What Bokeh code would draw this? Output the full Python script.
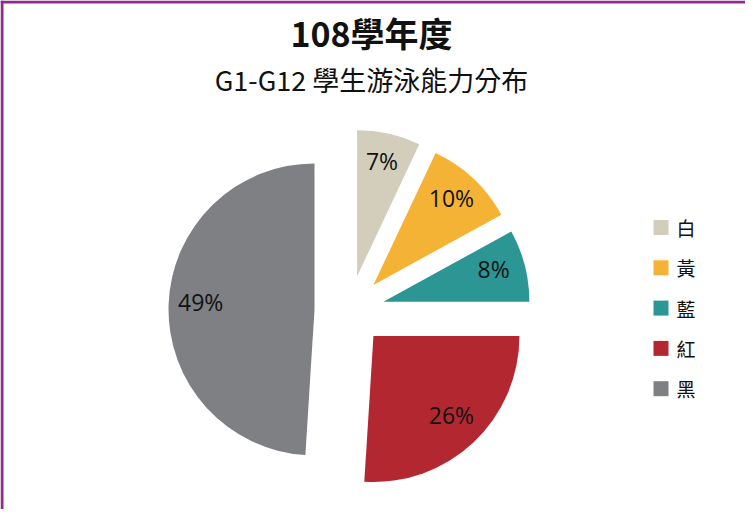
import numpy as np
from bokeh.plotting import figure
from bokeh.models import Range1d, ColumnDataSource
from bokeh.core.properties import value
from bokeh.embed import file_html
from bokeh.resources import INLINE

# ---- data ----
title_text = "108學年度"
subtitle_text = "G1-G12 學生游泳能力分布"
categories = ["白", "黃", "藍", "紅", "黑"]
percents = [7, 10, 8, 26, 49]
colors = ["#D3CEBB", "#F5B335", "#2B9693", "#B22730", "#7F8084"]

W, H = 745, 509
p = figure(width=W, height=H, output_backend="svg", toolbar_location=None,
           x_range=Range1d(0, W), y_range=Range1d(0, H),
           x_axis_type=None, y_axis_type=None, min_border=0)
p.grid.visible = False
p.outline_line_color = None
p.background_fill_color = "white"
p.border_fill_color = "white"

# layout constants
cx, cy, r, explode = 349, 199, 146, 35
label_dist = 0.78 * r

vals = np.array(percents, dtype=float)
frac = vals / vals.sum()
cum = np.concatenate([[0], np.cumsum(frac)])
start = np.pi / 2 - 2 * np.pi * cum[:-1]
end = np.pi / 2 - 2 * np.pi * cum[1:]
mid = (start + end) / 2
ax = cx + explode * np.cos(mid)
ay = cy + explode * np.sin(mid)

src = ColumnDataSource(dict(x=ax, y=ay, start=start, end=end, color=colors,
                            lx=ax + label_dist * np.cos(mid),
                            ly=ay + label_dist * np.sin(mid),
                            lab=[f"{v}%" for v in percents]))
p.wedge(x="x", y="y", radius=r, start_angle="start", end_angle="end",
        direction="clock", fill_color="color", line_color=None, source=src)
p.text(x="lx", y="ly", text="lab", source=src, text_align="center",
       text_baseline="middle", y_offset=-4, text_font=value("Open Sans"),
       text_font_size="23px", text_color="#111111")

# title
p.text(x=[371], y=[477], text=[title_text], text_align="center", text_baseline="middle",
       text_font=value("Noto Sans CJK TC"), text_font_style="bold",
       text_font_size="34px", text_color="#111111")
p.text(x=[371], y=[430], text=[subtitle_text], text_align="center", text_baseline="middle",
       text_font=value("Noto Sans CJK TC"), text_font_size="27px", text_color="#111111")

# legend
n = len(categories)
leg_y = 282 - 40.3 * np.arange(n)
p.scatter(x=[660.5] * n, y=leg_y, marker="square", size=15, fill_color=colors,
          line_color=None)
p.text(x=[676] * n, y=leg_y, text=categories, text_align="left", text_baseline="middle",
       text_font=value("Noto Sans CJK TC"), text_font_size="19px", text_color="#111111")

# border (top & left)
p.line(x=[0, W], y=[H - 1.5, H - 1.5], line_color="#8E2C8E", line_width=3)
p.line(x=[1.5, 1.5], y=[0, H], line_color="#8E2C8E", line_width=3)

open("out.html", "w").write(file_html(p, INLINE))
